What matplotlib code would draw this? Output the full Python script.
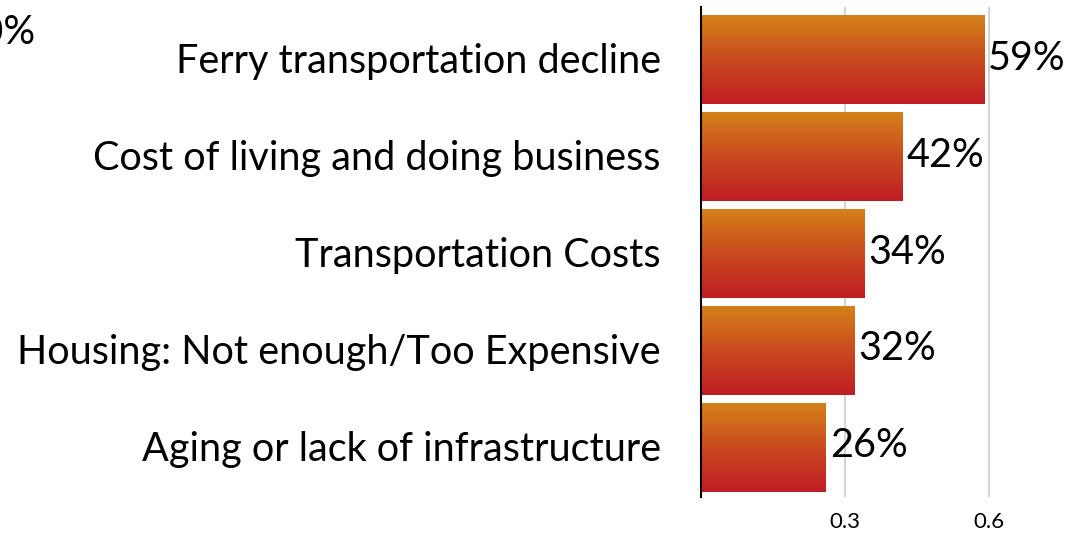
import numpy as np
import matplotlib.pyplot as plt
from matplotlib.colors import LinearSegmentedColormap

categories = [
    "Ferry transportation decline",
    "Cost of living and doing business",
    "Transportation Costs",
    "Housing: Not enough/Too Expensive",
    "Aging or lack of infrastructure",
]
values = [0.59, 0.42, 0.34, 0.32, 0.26]
value_labels = ["59%", "42%", "34%", "32%", "26%"]
x_ticks = [0.3, 0.6]
x_tick_labels = ["0.3", "0.6"]

W, H = 1070, 533
plt.rcParams["font.family"] = ["Lato", "DejaVu Sans"]

fig = plt.figure(figsize=(W / 100, H / 100), dpi=100)
ax = fig.add_axes([701 / W, (H - 497) / H, (W - 701) / W, 490 / H])

# vertical gradient, red at the bottom of each bar, orange on top
grad = LinearSegmentedColormap.from_list("rg", ["#c01d24", "#c94a1f", "#d5811a"])
g = np.linspace(0, 1, 256).reshape(-1, 1)

n = len(categories)
ypos = np.arange(n)[::-1]
bar_h = 0.91
for y, v, lab in zip(ypos, values, value_labels):
    ax.imshow(g, cmap=grad, origin="lower", aspect="auto",
              extent=[0, v, y - bar_h / 2 - 0.02, y + bar_h / 2 - 0.02], zorder=2)
    ax.text(v + 0.008, y, lab, va="center", ha="left", fontsize=28.5, color="black")

ax.set_xlim(0, (W - 701) / 480)
ax.set_ylim(-0.53, n - 0.47)
ax.set_yticks(ypos)
ax.set_yticklabels(categories, fontsize=28.5)
ax.set_xticks(x_ticks)
ax.set_xticklabels(x_tick_labels, fontsize=16)
ax.tick_params(axis="y", length=0, pad=29)
ax.tick_params(axis="x", length=0, pad=11)
ax.grid(axis="x", color="#cccccc", linewidth=1.2, zorder=0)
ax.set_axisbelow(True)
for s in ["top", "right", "bottom"]:
    ax.spines[s].set_visible(False)
ax.spines["left"].set_color("black")
ax.spines["left"].set_linewidth(1.5)
ax.spines["left"].set_zorder(3)

fig.text(36 / W, 1 - 32 / H, "100%", ha="right", va="center", fontsize=28.5)

fig.savefig("out.png", dpi=100)
